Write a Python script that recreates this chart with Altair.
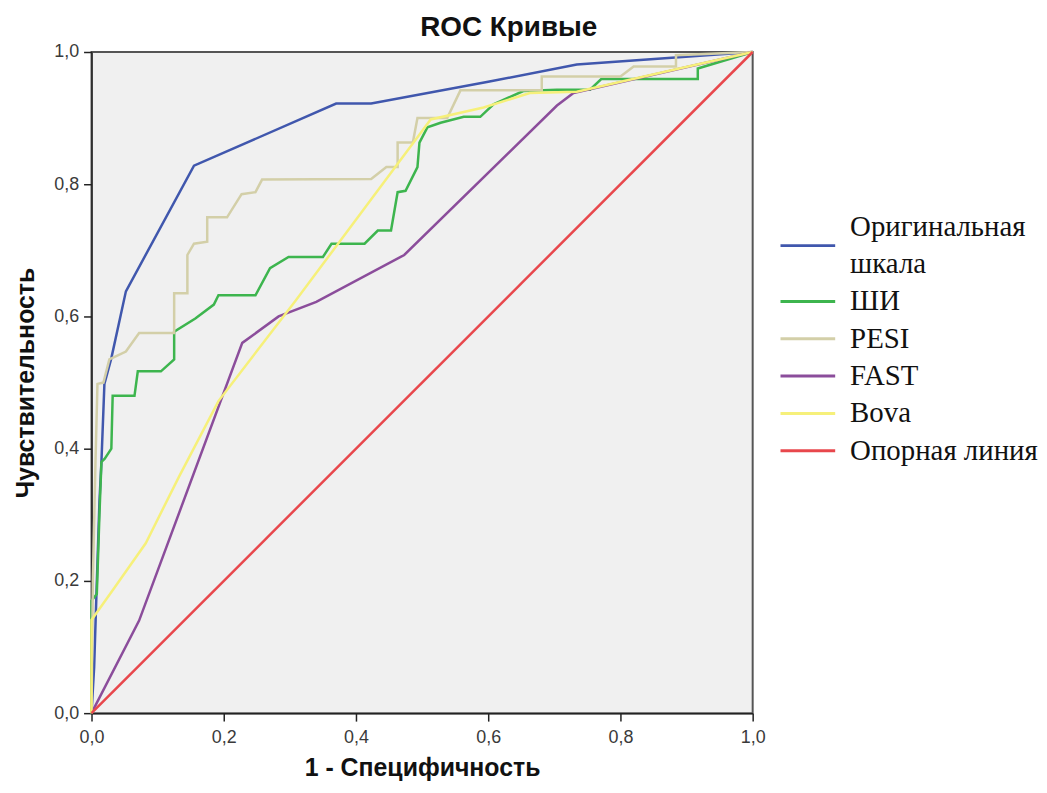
import altair as alt
import pandas as pd

# ---- data ----
series_names = ["Оригинальная шкала", "ШИ", "PESI", "FAST", "Bova", "Опорная линия"]
series_colors = ["#4057ad", "#3db54e", "#d3cfa8", "#8b4d9b", "#f6f07a", "#e8474c"]

orig_x = [0, 0.004, 0.008, 0.012, 0.015, 0.0195, 0.03, 0.052, 0.155, 0.37, 0.423, 0.6, 0.734, 1.0]
orig_y = [0, 0.07, 0.197, 0.32, 0.38, 0.498, 0.537, 0.638, 0.828, 0.922, 0.922, 0.955, 0.981, 1.0]

shi_x = [0, 0, 0.008, 0.012, 0.015, 0.02, 0.03, 0.032, 0.065, 0.07, 0.105, 0.125, 0.125, 0.157,
         0.185, 0.192, 0.248, 0.27, 0.298, 0.35, 0.363, 0.413, 0.433, 0.453, 0.463, 0.475, 0.493,
         0.496, 0.508, 0.528, 0.563, 0.588, 0.608, 0.653, 0.704, 0.754, 0.771, 0.917, 0.917, 1.0]
shi_y = [0, 0.17, 0.18, 0.3, 0.38, 0.385, 0.40, 0.48, 0.48, 0.517, 0.517, 0.535, 0.577, 0.597,
         0.618, 0.632, 0.632, 0.673, 0.69, 0.69, 0.71, 0.71, 0.73, 0.73, 0.788, 0.79, 0.826,
         0.863, 0.886, 0.893, 0.902, 0.902, 0.921, 0.941, 0.943, 0.943, 0.959, 0.959, 0.975, 1.0]

pesi_x = [0, 0.002, 0.006, 0.009, 0.018, 0.027, 0.052, 0.072, 0.125, 0.125, 0.145, 0.145, 0.155,
          0.175, 0.175, 0.205, 0.227, 0.248, 0.258, 0.423, 0.446, 0.463, 0.463, 0.486, 0.493,
          0.538, 0.558, 0.681, 0.681, 0.80, 0.82, 0.884, 0.884, 1.0]
pesi_y = [0, 0.2, 0.38, 0.498, 0.50, 0.535, 0.547, 0.575, 0.575, 0.635, 0.635, 0.693, 0.71,
          0.713, 0.75, 0.75, 0.785, 0.788, 0.807, 0.808, 0.826, 0.826, 0.863, 0.863, 0.9,
          0.9, 0.942, 0.942, 0.963, 0.963, 0.978, 0.978, 0.995, 1.0]

fast_x = [0, 0.072, 0.228, 0.283, 0.34, 0.473, 0.704, 0.729, 1.0]
fast_y = [0, 0.14, 0.56, 0.60, 0.622, 0.693, 0.919, 0.938, 1.0]

bova_x = [0, 0, 0.032, 0.082, 0.132, 0.192, 0.308, 0.493, 0.513, 0.593, 0.663, 0.734, 0.884, 1.0]
bova_y = [0, 0.141, 0.186, 0.257, 0.357, 0.472, 0.623, 0.871, 0.898, 0.916, 0.938, 0.94, 0.974, 1.0]

ref_x = [0, 1.0]
ref_y = [0, 1.0]

tick_values = [0, 0.2, 0.4, 0.6, 0.8, 1.0]

# legend text lines (the first entry wraps over two lines)
legend_lines = ["Оригинальная", "шкала", "ШИ", "PESI", "FAST", "Bova", "Опорная линия"]
legend_line_slot = [0, 1, 2, 3, 4, 5, 6]
legend_symbol_slot = [0.5, 2, 3, 4, 5, 6]

# ---- tables ----
xs = [orig_x, shi_x, pesi_x, fast_x, bova_x, ref_x]
ys = [orig_y, shi_y, pesi_y, fast_y, bova_y, ref_y]
rows = []
for name, sx, sy in zip(series_names, xs, ys):
    for i, (a, b) in enumerate(zip(sx, sy)):
        rows.append({"series": name, "idx": i, "fpr": a, "tpr": b})
df = pd.DataFrame(rows)

sym_df = pd.DataFrame({"series": series_names, "slot": legend_symbol_slot})
txt_df = pd.DataFrame({"text": legend_lines, "slot": legend_line_slot})

label_expr = "replace(format(datum.value, '.1f'), '.', ',')"
color_scale = alt.Scale(domain=series_names, range=series_colors)

main = alt.Chart(df).mark_line(strokeWidth=2.5).encode(
    x=alt.X("fpr:Q", scale=alt.Scale(domain=[0, 1], nice=False, zero=False),
            axis=alt.Axis(values=tick_values, labelExpr=label_expr, title="1 - Специфичность",
                          grid=False, tickSize=8, labelPadding=8, titlePadding=9,
                          labelFlush=False)),
    y=alt.Y("tpr:Q", scale=alt.Scale(domain=[0, 1], nice=False, zero=False),
            axis=alt.Axis(values=tick_values, labelExpr=label_expr, title="Чувствительность",
                          grid=False, tickSize=8, labelPadding=5, titlePadding=15,
                          labelFlush=False)),
    color=alt.Color("series:N", scale=color_scale, legend=None),
    order=alt.Order("idx:Q"),
).properties(
    width=665, height=665,
    view=alt.ViewBackground(fill="#f0f0f0", stroke="#555", strokeWidth=2),
)

slot_scale = alt.Scale(domain=[13.04, -4.693], nice=False, zero=False)

leg_sym = alt.Chart(sym_df).mark_rule(strokeWidth=3).encode(
    x=alt.value(0), x2=alt.value(55),
    y=alt.Y("slot:Q", scale=slot_scale, axis=None),
    color=alt.Color("series:N", scale=color_scale, legend=None),
)
leg_txt = alt.Chart(txt_df).mark_text(
    align="left", baseline="middle", font="Liberation Serif", fontSize=29, color="#111",
).encode(
    x=alt.value(70),
    y=alt.Y("slot:Q", scale=slot_scale, axis=None),
    text="text:N",
)
legend = alt.layer(leg_sym, leg_txt).properties(
    width=230, height=665,
    view=alt.ViewBackground(fill="transparent", stroke="transparent"),
)

chart = alt.hconcat(main, legend, spacing=12).properties(
    title=alt.TitleParams("ROC Кривые", fontSize=28, font="Liberation Sans", fontWeight="bold",
                          color="#111", anchor="middle", offset=0, dx=-17),
    padding={"left": 4, "top": 4, "right": 0, "bottom": 0},
    background="white",
).configure_axis(
    domainColor="#222", domainWidth=1.5, tickColor="#222", tickWidth=1.5,
    labelFont="Liberation Sans", labelFontSize=18, labelColor="#3a3a3a",
    titleFont="Liberation Sans", titleFontSize=25, titleFontWeight="bold", titleColor="#111",
)

chart.save("out.html", embed_options={"renderer": "svg", "actions": False})
